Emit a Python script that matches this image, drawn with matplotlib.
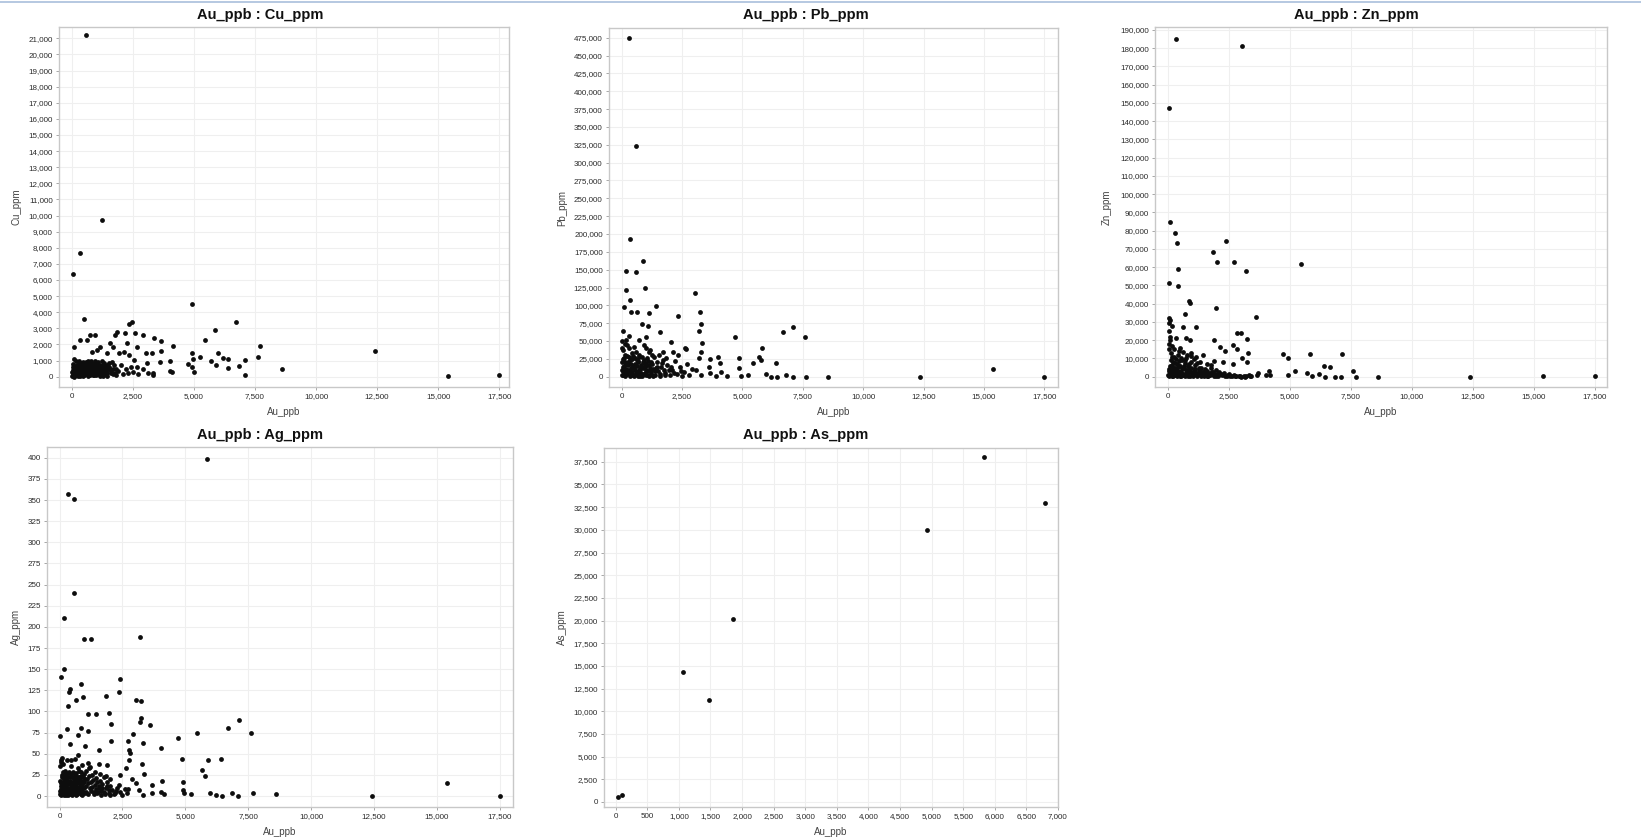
import numpy as np
import matplotlib
matplotlib.use("Agg")
import matplotlib.pyplot as plt
from matplotlib.ticker import FuncFormatter, MultipleLocator
from matplotlib.lines import Line2D

plt.rcParams['font.family'] = ['Liberation Sans', 'DejaVu Sans']

# ---------------- data (Au_ppb, element) ----------------
cu_points = [
    (590, 21200), (1250, 9750), (310, 7650), (30, 6400), (480, 3600), (4900, 4500),
    (6700, 3400), (5850, 2900), (5450, 2280), (7700, 1900), (12400, 1570), (15400, 40),
    (17500, 80), (8600, 480), (7600, 1200), (7100, 1030), (7100, 100), (6850, 640),
    (6400, 540), (6400, 1080), (6200, 1180), (5980, 1450), (5880, 720), (5700, 1000),
    (5230, 1200), (4900, 1450), (4950, 1100), (4910, 620), (5000, 270), (4750, 760),
    (4140, 1920), (4030, 990), (4000, 350), (4100, 290), (3640, 2230), (3660, 1610),
    (3620, 930), (3360, 2420), (3290, 1450), (3340, 200), (2900, 2570), (3020, 1490),
    (3070, 870), (2580, 2700), (2660, 1860), (2450, 3400), (2350, 3300), (2180, 2690),
    (2250, 2070), (2120, 1550), (2320, 1345), (2525, 1035), (2660, 620), (1840, 2770),
    (1775, 2590), (1680, 1860), (1910, 1450), (1540, 2070), (1430, 1450), (1160, 1860),
    (930, 2590), (750, 2590), (615, 2280), (340, 2280), (100, 1860), (1020, 1650),
    (820, 1550), (1300, 830),
    (20, 50), (60, 150), (100, 300), (150, 80), (200, 500), (250, 250), (300, 700),
    (350, 100), (400, 400), (450, 900), (500, 200), (550, 600), (600, 350), (650, 50),
    (700, 800), (750, 450), (800, 150), (850, 600), (900, 300), (950, 950), (1000, 100),
    (1050, 500), (1100, 250), (1150, 750), (1200, 400), (1300, 150), (1350, 600),
    (1400, 300), (1500, 850), (1600, 200), (1700, 500), (1800, 100), (1900, 350),
    (2000, 700), (2100, 150), (2200, 450), (30, 800), (80, 1100), (120, 600), (180, 950),
    (220, 200), (280, 1000), (320, 350), (380, 650), (420, 150), (480, 700), (520, 450),
    (580, 900), (620, 200), (680, 550), (720, 250), (780, 1000), (820, 350), (880, 800),
    (920, 100), (980, 650), (1020, 350), (1080, 900), (1120, 150), (1180, 550),
    (1250, 950), (1280, 50), (1450, 700), (1550, 450), (1650, 900), (1750, 250),
    (50, 400), (90, 0), (140, 250), (190, 700), (240, 50), (260, 450), (340, 850),
    (360, 300), (440, 550), (460, 50), (540, 250), (560, 750), (640, 450), (660, 950),
    (740, 650), (760, 100), (840, 500), (860, 200), (940, 450), (960, 750), (1040, 200),
    (1060, 650), (1140, 400), (1160, 50), (1220, 650), (1320, 400), (1420, 50),
    (1480, 500), (2300, 200), (2400, 600), (2500, 300), (2700, 150), (2900, 450),
    (3100, 250), (3300, 100),
    (10, 300), (30, 600), (70, 50), (110, 450), (160, 650), (210, 350), (230, 750),
    (270, 150), (290, 550), (330, 50), (370, 450), (390, 850), (410, 250), (470, 350),
    (490, 550), (510, 100), (530, 800), (570, 400), (590, 150), (630, 650), (690, 300),
    (710, 700), (770, 250), (790, 550), (810, 800), (870, 100), (890, 450), (930, 650),
    (990, 250), (1010, 850), (1070, 350), (1130, 600), (1170, 200), (1210, 100),
    (1230, 300), (1270, 700), (1340, 250), (1380, 450), (1440, 200), (1520, 600),
    (1580, 350), (1680, 150), (1720, 750), (1820, 450),
]

pb_points = [
    (320, 474000), (580, 323000), (360, 193000), (890, 162000), (190, 148000), (580, 147000),
    (180, 121000), (960, 125000), (340, 108000), (100, 98000), (1440, 99000), (410, 91000),
    (645, 90000), (1140, 89000), (2350, 85000), (3030, 117000), (3225, 90000), (3270, 74000),
    (3200, 64000), (3340, 47600), (3290, 35000), (3200, 25700), (40, 64000), (320, 57000),
    (840, 74000), (1085, 71000), (1590, 62000), (1000, 55000), (730, 51000), (2030, 48000),
    (2610, 40000), (2675, 39000), (1030, 40600), (1170, 37000), (1715, 35000), (2130, 35000),
    (4710, 56000), (4870, 25700), (5830, 39700), (5670, 28000), (5780, 23400), (5420, 19600),
    (6380, 18700), (6660, 62000), (7110, 70000), (7580, 55100), (15350, 11200), (17460, 0),
    (12350, 0), (8550, 0), (7640, 0), (7110, 0), (6820, 2800), (6420, 0), (6180, 0),
    (5970, 3700), (5220, 2300), (4940, 900), (4870, 11700), (4350, 1400), (4100, 7000),
    (4010, 28000), (4080, 19600), (3640, 24800), (3610, 14000), (3640, 4700), (3910, 900),
    (3270, 2300), (3090, 9300),
    (20, 2000), (60, 8000), (100, 15000), (150, 30000), (200, 5000), (250, 20000),
    (300, 40000), (350, 1000), (400, 12000), (450, 25000), (500, 3000), (550, 18000),
    (600, 35000), (650, 7000), (700, 22000), (750, 1000), (800, 14000), (850, 28000),
    (900, 4000), (950, 19000), (1000, 9000), (1050, 26000), (1100, 2000), (1150, 16000),
    (1200, 6000), (1250, 30000), (1300, 11000), (1400, 3000), (1450, 20000), (1500, 8000),
    (1600, 1000), (1650, 14000), (1700, 24000), (1800, 5000), (1900, 17000), (2000, 2000),
    (2100, 10000), (2200, 22000), (2300, 4000), (2400, 13000), (2500, 1000), (2600, 7000),
    (2700, 18000), (2800, 3000), (2900, 11000), (40, 25000), (80, 38000), (120, 4000),
    (170, 18000), (220, 45000), (270, 10000), (320, 27000), (370, 6000), (420, 33000),
    (470, 15000), (520, 42000), (570, 9000), (620, 24000), (670, 500), (720, 31000),
    (770, 11000), (820, 4000), (870, 20000), (920, 44000), (970, 13000), (1020, 3000),
    (1070, 17000), (1120, 34000), (1170, 9000), (1220, 21000), (1320, 1500), (1350, 27000),
    (1420, 12000), (1550, 30000), (1750, 9000), (1850, 26000), (2050, 14000), (2350, 30000),
    (30, 40000), (10, 50000), (130, 46000), (180, 52000),
    (10, 10000), (30, 20000), (50, 3000), (70, 14000), (90, 26000), (110, 7000),
    (140, 21000), (160, 1000), (190, 11000), (210, 29000), (240, 4000), (280, 16000),
    (310, 8000), (330, 23000), (380, 2000), (390, 18000), (440, 7000), (480, 29000),
    (510, 12000), (530, 500), (560, 26000), (590, 4000), (630, 15000), (660, 20000),
    (690, 2000), (710, 10000), (740, 27000), (780, 6000), (810, 17000), (860, 1500),
    (880, 12000), (930, 24000), (960, 5000), (990, 16000), (1040, 8000), (1080, 22000),
    (1130, 1000), (1180, 12000), (1230, 4000), (1280, 18000), (1380, 8000), (1480, 14000),
    (1580, 4000), (1680, 19000), (1780, 2000), (1950, 9000), (2150, 5000), (2450, 8000),
]

zn_points = [
    (330, 185000), (3050, 181000), (40, 147000), (70, 85000), (285, 79000), (350, 73400),
    (420, 59200), (30, 51200), (390, 49900), (850, 41500), (910, 40600), (680, 34200),
    (40, 32300), (95, 31000), (40, 29200), (150, 27800), (600, 27400), (1125, 27400),
    (1980, 37400), (1840, 68300), (2020, 62700), (2370, 74500), (2720, 63000), (3200, 57900),
    (3600, 32500), (5450, 62000), (2845, 23800), (2980, 23800), (1880, 20100), (3220, 20500),
    (2125, 16400), (2655, 17400), (2345, 14200), (2820, 15200), (3050, 10400), (3290, 13200),
    (3250, 8200), (2235, 8200), (2680, 6900), (730, 21000), (880, 20100), (950, 12800),
    (340, 21000), (475, 15500), (1150, 11000), (1420, 11900), (4710, 12200), (4920, 10400),
    (5810, 12200), (7125, 12200), (6400, 5800), (6660, 5500), (7600, 3300), (5215, 3100),
    (4920, 900), (5690, 1800), (5890, 500), (6190, 1300), (6430, 0), (6840, 0), (7110, 0),
    (7690, 0), (8600, 0), (12390, 0), (15390, 400), (17500, 400), (4130, 3300), (4160, 900),
    (3700, 2200), (4000, 900), (3660, 900),
    (10, 1000), (50, 3000), (80, 6000), (100, 9000), (120, 13000), (150, 500), (180, 4000),
    (200, 8000), (230, 2000), (260, 11000), (300, 5000), (330, 1500), (360, 7000),
    (400, 3000), (430, 14000), (470, 500), (500, 6000), (540, 2500), (580, 9000),
    (620, 1000), (660, 4500), (700, 7500), (740, 2000), (780, 12000), (820, 500),
    (860, 5000), (900, 3000), (950, 8000), (1000, 1000), (1050, 4000), (1100, 6500),
    (1150, 2000), (1200, 500), (1250, 3500), (1300, 1500), (1350, 5000), (1400, 800),
    (1450, 2500), (1500, 4000), (1550, 1000), (1600, 3000), (1650, 500), (1700, 2000),
    (1750, 4500), (1800, 1200), (1850, 2800), (1900, 600), (1950, 3500), (2000, 1500),
    (2050, 300), (2100, 2500), (2200, 800), (2300, 1800), (2400, 400), (2500, 1200),
    (2600, 300), (2700, 800), (2800, 200), (2900, 600), (3000, 100), (3100, 500),
    (3200, 200), (3300, 900), (3400, 300), (20, 15000), (40, 18000), (60, 22000),
    (30, 25000), (90, 20000), (140, 17000), (170, 11000), (250, 15000), (320, 9500),
    (390, 12000), (450, 8500), (520, 10000), (600, 13500), (680, 9000), (750, 10500),
    (850, 7000), (920, 11500), (1080, 9500), (1180, 7500), (1320, 8000), (1600, 7000),
    (1750, 6500), (1900, 8500),
    (20, 500), (35, 4000), (60, 1500), (75, 2500), (110, 3500), (130, 1000), (165, 6500),
    (190, 2500), (215, 500), (245, 5000), (275, 1000), (290, 7500), (315, 3000), (345, 500),
    (375, 4500), (415, 1500), (445, 6000), (485, 2500), (525, 500), (560, 4000), (595, 1500),
    (640, 6000), (680, 500), (720, 3500), (760, 1000), (800, 6000), (840, 2500), (880, 500),
    (930, 4500), (980, 2000), (1030, 500), (1070, 2500), (1120, 4000), (1170, 1000),
    (1230, 2000), (1280, 4500), (1330, 500), (1380, 2500), (1430, 1000), (1480, 500),
    (1530, 2500), (1580, 500), (1630, 1500), (1720, 800), (1780, 2500), (1880, 1500),
    (1980, 500), (2150, 1200), (2350, 600), (2450, 1000), (2550, 200), (2750, 400),
    (2950, 300), (3150, 100), (3350, 500),
]

ag_points = [
    (5850, 399), (330, 357), (580, 351), (580, 240), (170, 211), (955, 186), (1250, 186),
    (3210, 188), (185, 150), (50, 141), (2390, 138), (860, 132), (400, 127), (375, 123),
    (2350, 123), (1860, 118), (940, 117), (650, 113), (3040, 113), (3240, 112), (345, 107),
    (1140, 97), (1450, 97), (1980, 98), (3220, 92), (3185, 88), (7130, 90), (2060, 85),
    (3600, 84), (6700, 80), (7600, 75), (5450, 74), (305, 79), (860, 80), (1115, 77),
    (715, 72), (25, 71), (2920, 73), (4710, 69), (2060, 65), (2735, 65), (3330, 63),
    (410, 61), (1020, 59), (4035, 57), (1580, 54), (2760, 54), (2800, 51), (730, 48),
    (4880, 44), (6400, 44), (5890, 42), (2750, 43), (65, 43), (465, 42), (1115, 39),
    (3280, 38), (1550, 38), (1885, 37), (2630, 33), (5680, 31), (5800, 24), (3370, 26),
    (1180, 33), (4090, 18), (4920, 17), (15400, 15), (17500, 0.5), (12420, 0.5), (8600, 2),
    (7710, 4), (7100, 0.5), (6870, 4), (6450, 0.5), (6220, 1), (5980, 4), (5230, 2),
    (4950, 3), (4910, 7), (4140, 2), (4020, 5), (3680, 4), (3660, 13), (3320, 1), (3140, 7),
    (3050, 15), (2890, 20), (2735, 8), (2420, 25), (2350, 13), (2020, 1),
    (10, 2), (40, 8), (70, 15), (100, 25), (130, 4), (160, 12), (190, 20), (220, 30),
    (250, 1), (280, 10), (310, 18), (340, 27), (370, 5), (400, 14), (430, 22), (460, 2),
    (490, 9), (520, 17), (550, 28), (580, 6), (610, 13), (640, 21), (670, 3), (700, 11),
    (730, 19), (760, 29), (790, 7), (820, 15), (850, 24), (880, 1), (910, 10), (940, 18),
    (970, 26), (1000, 4), (1050, 12), (1100, 20), (1150, 2), (1200, 9), (1250, 16),
    (1300, 25), (1350, 5), (1400, 13), (1450, 21), (1500, 3), (1550, 10), (1600, 18),
    (1650, 6), (1700, 14), (1750, 22), (1800, 2), (1850, 9), (1900, 16), (1950, 4),
    (2000, 12), (2100, 7), (2200, 3), (2300, 10), (2400, 5), (2500, 1), (2600, 8),
    (2700, 3), (20, 35), (60, 40), (90, 45), (150, 38), (300, 42), (450, 36), (600, 44),
    (750, 33), (900, 37), (1050, 30), (1200, 34), (1400, 28), (1600, 26), (1850, 24),
    (2000, 20),
    (20, 6), (30, 18), (50, 12), (60, 1), (80, 22), (90, 9), (110, 4), (120, 17), (140, 28),
    (150, 8), (170, 1), (180, 15), (200, 24), (210, 5), (230, 11), (240, 19), (260, 6),
    (270, 26), (290, 3), (300, 14), (320, 9), (330, 22), (350, 1), (360, 16), (380, 28),
    (390, 7), (410, 3), (420, 18), (440, 11), (450, 26), (470, 6), (480, 15), (500, 1),
    (510, 22), (530, 9), (540, 14), (560, 3), (570, 20), (590, 10), (600, 25), (620, 5),
    (630, 16), (650, 1), (660, 27), (680, 8), (690, 15), (710, 2), (720, 23), (740, 10),
    (750, 5), (770, 16), (780, 22), (800, 3), (810, 12), (830, 19), (840, 8), (860, 28),
    (870, 2), (890, 14), (900, 6), (920, 23), (930, 11), (950, 3), (960, 16), (990, 9),
    (1020, 20), (1070, 5), (1120, 15), (1180, 24), (1230, 6), (1280, 11), (1330, 19),
    (1380, 2), (1430, 8), (1480, 16), (1530, 5), (1580, 12), (1630, 1), (1680, 9),
    (1780, 5), (1880, 12), (1980, 7), (2150, 2), (2250, 6),
]

as_points = [
    (5830, 38000), (6790, 33000), (4920, 30000), (1860, 20200), (1065, 14300),
    (1480, 11200), (100, 740), (30, 550),
]

titles = ["Au_ppb : Cu_ppm", "Au_ppb : Pb_ppm", "Au_ppb : Zn_ppm",
          "Au_ppb : Ag_ppm", "Au_ppb : As_ppm"]
ylabels = ["Cu_ppm", "Pb_ppm", "Zn_ppm", "Ag_ppm", "As_ppm"]
xlabel = "Au_ppb"

# ---------------- layout (pixels) ----------------
W, H = 1641, 840
fig = plt.figure(figsize=(W / 100, H / 100), dpi=100)
fig.patch.set_facecolor("white")

# (left, right, top, bottom) of plot area in pixels
boxes = [(59, 509, 27, 387), (609, 1058, 28, 387), (1155, 1607, 27, 387),
         (47, 513, 447, 807), (604, 1058, 448, 807)]
xlims = [(-530, 17900), (-520, 18060), (-540, 18010), (-500, 18030), (-185, 7000)]
ylims = [(-640, 21700), (-14400, 488600), (-5650, 191600), (-13, 412.7), (-553, 39020)]
xsteps = [2500, 2500, 2500, 2500, 500]
ysteps = [1000, 25000, 10000, 25, 2500]
title_pos = [(260, 15), (806, 15), (1356, 15), (260, 435), (806, 435)]
ylabel_x = [17, 562, 1107, 16, 562]
datasets = [cu_points, pb_points, zn_points, ag_points, as_points]

fmt = FuncFormatter(lambda v, p: f"{v:,.0f}")

for i, pts in enumerate(datasets):
    l, r, t, b = boxes[i]
    ax = fig.add_axes([l / W, 1 - b / H, (r - l) / W, (b - t) / H])
    xy = np.array(pts, dtype=float)
    ax.scatter(xy[:, 0], xy[:, 1], s=12, c="#0d0d0d", linewidths=0, zorder=3)
    ax.set_xlim(*xlims[i])
    ax.set_ylim(*ylims[i])
    ax.xaxis.set_major_locator(MultipleLocator(xsteps[i]))
    ax.yaxis.set_major_locator(MultipleLocator(ysteps[i]))
    ax.xaxis.set_major_formatter(fmt)
    ax.yaxis.set_major_formatter(fmt)
    ax.grid(True, color="#efefef", linewidth=0.8, zorder=0)
    ax.set_axisbelow(True)
    for sp in ax.spines.values():
        sp.set_color("#c8c8c8")
        sp.set_linewidth(1.0)
    ax.tick_params(axis="both", length=2.5, width=0.6, color="#999999",
                   labelsize=5.8, labelcolor="#2a2a2a", pad=2)
    # x label
    cx = (l + r) / 2
    fig.text(cx / W, 1 - (b + 25) / H, xlabel, ha="center", va="center",
             fontsize=7, color="#444444")
    # y label
    fig.text(ylabel_x[i] / W, 1 - ((t + b) / 2) / H, ylabels[i], ha="center",
             va="center", rotation=90, fontsize=7, color="#444444")
    # title
    tx, ty = title_pos[i]
    fig.text(tx / W, 1 - ty / H, titles[i], ha="center", va="center",
             fontsize=10.5, fontweight="bold", color="#111111")

# thin window-frame line at top
fig.add_artist(Line2D([0, 1], [1 - 2 / H, 1 - 2 / H], color="#a9bfdc",
                      linewidth=1.2, transform=fig.transFigure))

fig.savefig("out.png", dpi=100, facecolor="white")
